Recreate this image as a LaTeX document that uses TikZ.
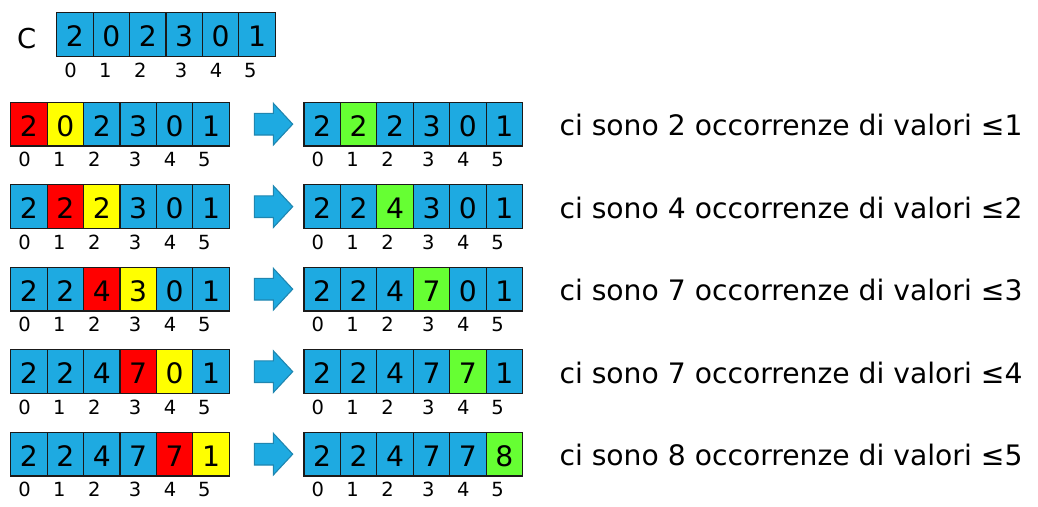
\documentclass[tikz,border=0pt]{standalone}
\usepackage{fontspec}
\setmainfont{DejaVu Sans}
\definecolor{cblue}{HTML}{1EAAE1}
\definecolor{cgreen}{HTML}{66FF33}
\definecolor{cred}{HTML}{FF0000}
\definecolor{cyellow}{HTML}{FFFF00}
\definecolor{aedge}{HTML}{1F86B0}
\definecolor{cedge}{HTML}{1A1A1A}
\tikzset{
  cell/.style={draw=cedge, line width=1.2pt, minimum width=36.4pt, minimum height=43.7pt,
    inner sep=0pt, text height=24.5pt, text depth=0pt,
    font=\fontsize{28.2}{30}\selectfont},
  idx/.style={anchor=base, inner sep=0pt, font=\fontsize{19.5}{21}\selectfont},
  note/.style={anchor=base west, inner sep=0pt, font=\fontsize{28.2}{30}\selectfont},
  bigarrow/.style={fill=cblue, draw=aedge, line width=1.1pt, line join=miter}
}
\newcommand\cellrow[4]{%
  \foreach \v/\c [count=\i from 0] in {#4} {
    \node[cell, fill=\c] (#1-\i) at ({#2+(\i+0.5)*36.43}, {#3+21.85}) {\v};
  }
  \foreach \l/\dx in {0/13.8,1/48.6,2/83.6,3/124.3,4/159.3,5/193.6} {
    \node[idx] (#1-l\l) at ({#2+\dx}, {#3+64.3}) {\l};
  }
}
\newcommand\rowarrow[1]{%
  \draw[bigarrow] (254.3,{#1+11}) -- (273.3,{#1+11}) -- (273.3,{#1+1}) -- (292.7,{#1+21.85})
    -- (273.3,{#1+42.7}) -- (273.3,{#1+32.7}) -- (254.3,{#1+32.7}) -- cycle;
}
\begin{document}
\begin{tikzpicture}[x=1pt, y=-1pt]
\useasboundingbox (0,0) rectangle (1038,506);
\node[anchor=base, inner sep=0pt, font=\fontsize{27.4}{29}\selectfont] (Clab) at (26.7,48.3) {C};
\cellrow{C}{56.7}{12.7}{2/cblue,0/cblue,2/cblue,3/cblue,0/cblue,1/cblue}
% row 1
\cellrow{La}{10.7}{102.3}{2/cred,0/cyellow,2/cblue,3/cblue,0/cblue,1/cblue}
\rowarrow{102.3}
\cellrow{Ra}{304}{102.3}{2/cblue,2/cgreen,2/cblue,3/cblue,0/cblue,1/cblue}
\node[note] (Ta) at (559.3,135.7) {ci sono 2 occorrenze di valori ≤1};
% row 2
\cellrow{Lb}{10.7}{184.8}{2/cblue,2/cred,2/cyellow,3/cblue,0/cblue,1/cblue}
\rowarrow{184.8}
\cellrow{Rb}{304}{184.8}{2/cblue,2/cblue,4/cgreen,3/cblue,0/cblue,1/cblue}
\node[note] (Tb) at (559.3,218.2) {ci sono 4 occorrenze di valori ≤2};
% row 3
\cellrow{Lc}{10.7}{267.3}{2/cblue,2/cblue,4/cred,3/cyellow,0/cblue,1/cblue}
\rowarrow{267.3}
\cellrow{Rc}{304}{267.3}{2/cblue,2/cblue,4/cblue,7/cgreen,0/cblue,1/cblue}
\node[note] (Tc) at (559.3,300.7) {ci sono 7 occorrenze di valori ≤3};
% row 4
\cellrow{Ld}{10.7}{349.8}{2/cblue,2/cblue,4/cblue,7/cred,0/cyellow,1/cblue}
\rowarrow{349.8}
\cellrow{Rd}{304}{349.8}{2/cblue,2/cblue,4/cblue,7/cblue,7/cgreen,1/cblue}
\node[note] (Td) at (559.3,383.2) {ci sono 7 occorrenze di valori ≤4};
% row 5
\cellrow{Le}{10.7}{432.3}{2/cblue,2/cblue,4/cblue,7/cblue,7/cred,1/cyellow}
\rowarrow{432.3}
\cellrow{Re}{304}{432.3}{2/cblue,2/cblue,4/cblue,7/cblue,7/cblue,8/cgreen}
\node[note] (Te) at (559.3,465.7) {ci sono 8 occorrenze di valori ≤5};
\end{tikzpicture}
\end{document}
